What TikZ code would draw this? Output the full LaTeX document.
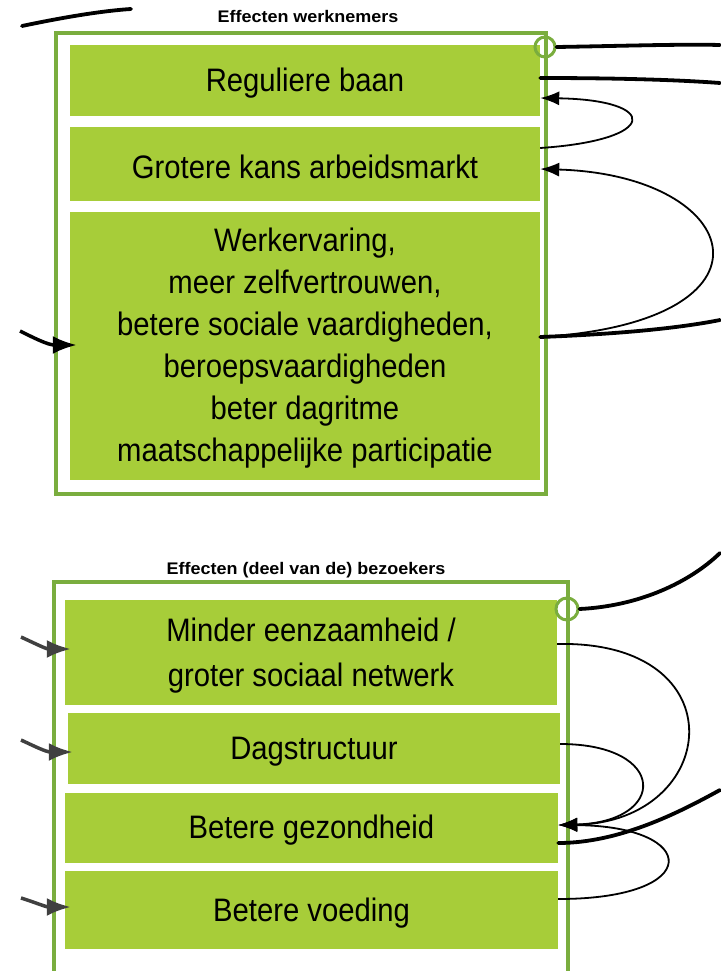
\documentclass[tikz,border=0pt]{standalone}
\usepackage{fontspec}
\setmainfont{Liberation Sans}
\newfontfamily\boxfont[FakeStretch=0.9]{Liberation Sans}
\newfontfamily\titlefont[FakeStretch=1.07]{Liberation Sans}
\usetikzlibrary{arrows.meta,calc}
\definecolor{boxgreen}{RGB}{167,205,57}
\definecolor{framegreen}{RGB}{122,173,62}
\definecolor{arrowgray}{RGB}{64,64,64}
\begin{document}
\begin{tikzpicture}[x=1pt,y=-1pt,
  greenbox/.style={fill=boxgreen, draw=none, inner sep=0pt},
  boxtext/.style={inner sep=0pt, text=black, align=center,
    font=\boxfont\fontsize{32.5}{42}\selectfont},
  frame/.style={draw=framegreen, line width=4pt},
  ring/.style={circle, draw=framegreen, line width=3pt, inner sep=0pt, minimum size=20pt},
  title/.style={font=\titlefont\bfseries\fontsize{16.8}{20}\selectfont, inner sep=0pt},
  thicklink/.style={line width=3.8pt, line cap=round},
  thinarrow/.style={line width=1.8pt, -{Latex[length=19pt,width=14pt]}},
  inarrow/.style={line width=3.5pt, -{Latex[length=24pt,width=18pt]}},
]
\useasboundingbox (0,0) rectangle (720,971);

% ---------- top group ----------
\node[title] (t1) at (308,16) {Effecten werknemers};
\draw[frame] (56,33) rectangle (546,494);
\node[greenbox, minimum width=470pt, minimum height=71pt] (b1) at (305,80.5) {};
\node[greenbox, minimum width=470pt, minimum height=74pt] (b2) at (305,164) {};
\node[greenbox, minimum width=470pt, minimum height=268pt] (b3) at (305,346) {};
\node[boxtext] (b1t) at ([yshift=-3pt]b1.center) {Reguliere baan};
\node[boxtext] (b2t) at ([yshift=-3pt]b2.center) {Grotere kans arbeidsmarkt};
\node[boxtext] (b3t) at ([yshift=-2pt]b3.center)
  {Werkervaring,\\meer zelfvertrouwen,\\betere sociale vaardigheden,\\beroepsvaardigheden\\beter dagritme\\maatschappelijke participatie};
\node[ring] (r1) at (545,47) {};

\coordinate (e1) at (720,45);
\coordinate (e2) at (720,83);
\coordinate (e3) at (720,320);
\coordinate (tl1) at (22,26);
\coordinate (tl2) at (131,9);
\coordinate (lin) at (20,331);

\draw[thicklink] (r1.east) .. controls (620,46) and (680,44) .. (e1);
\draw[thicklink] ([yshift=2.5pt]b1.east) .. controls (620,78) and (680,80) .. (e2);
\draw[thinarrow] ([yshift=16pt]b2.east) .. controls (660,140) and (660,100) .. ([yshift=-17.5pt]b1.east);
\draw[thinarrow] ([yshift=9pt]b3.east) .. controls (790,322) and (745,175) .. ([yshift=-5pt]b2.east);
\draw[thicklink] ([yshift=9pt]b3.east) .. controls (620,334) and (680,328) .. (e3);
\draw[thicklink] (tl1) .. controls (60,18) and (100,11) .. (tl2);
\draw[inarrow] (lin) .. controls (34,338) and (48,345) .. ([xshift=7pt,yshift=1pt]b3.west);

% ---------- bottom group ----------
\node[title] (t2) at (306,570) {Effecten (deel van de) bezoekers};
\draw[frame] (54,975) -- (54,582) -- (568,582) -- (568,975);
\node[greenbox, minimum width=492pt, minimum height=105pt] (A) at (311,652.5) {};
\node[greenbox, minimum width=492pt, minimum height=71pt] (B) at (314,748.5) {};
\node[greenbox, minimum width=493pt, minimum height=70pt] (C) at (311.5,828) {};
\node[greenbox, minimum width=493pt, minimum height=78pt] (D) at (311.5,910) {};
\node[boxtext] (At) at ([yshift=-3pt]A.center) {Minder eenzaamheid /\\[3pt]groter sociaal netwerk};
\node[boxtext] (Bt) at ([yshift=-3.5pt]B.center) {Dagstructuur};
\node[boxtext] (Ct) at ([yshift=-2.5pt]C.center) {Betere gezondheid};
\node[boxtext] (Dt) at ([yshift=-3pt]D.center) {Betere voeding};
\node[ring, minimum size=22pt] (r2) at (567,609) {};

\coordinate (e4) at (720,553);
\coordinate (e5) at (720,790);
\coordinate (la) at (21,637);
\coordinate (lb) at (21,740);
\coordinate (ld) at (21,898);

\draw[thicklink] (r2.east) .. controls (640,606) and (690,582) .. (e4);
\draw[thinarrow] ([yshift=8.5pt]A.east) .. controls (740,640) and (720,822) .. ([yshift=3pt]C.east);
\draw[thinarrow] ([yshift=4.5pt]B.east) .. controls (668,744) and (668,822) .. ([yshift=3pt]C.east);
\draw[thinarrow] ([yshift=11pt]D.east) .. controls (705,899) and (700,826) .. ([yshift=3pt]C.east);
\draw[thicklink] ([yshift=-15pt]C.east) .. controls (620,843) and (680,812) .. (e5);

\draw[inarrow, draw=arrowgray, fill=arrowgray] (la) .. controls (34,643) and (46,649) .. ([xshift=6pt,yshift=3.5pt]A.west);
\draw[inarrow, draw=arrowgray, fill=arrowgray] (lb) .. controls (34,746) and (46,752) .. ([xshift=5pt,yshift=-3.5pt]B.west);
\draw[inarrow, draw=arrowgray, fill=arrowgray] (ld) .. controls (34,902) and (46,907) .. ([xshift=6pt,yshift=3pt]D.west);
\end{tikzpicture}
\end{document}
